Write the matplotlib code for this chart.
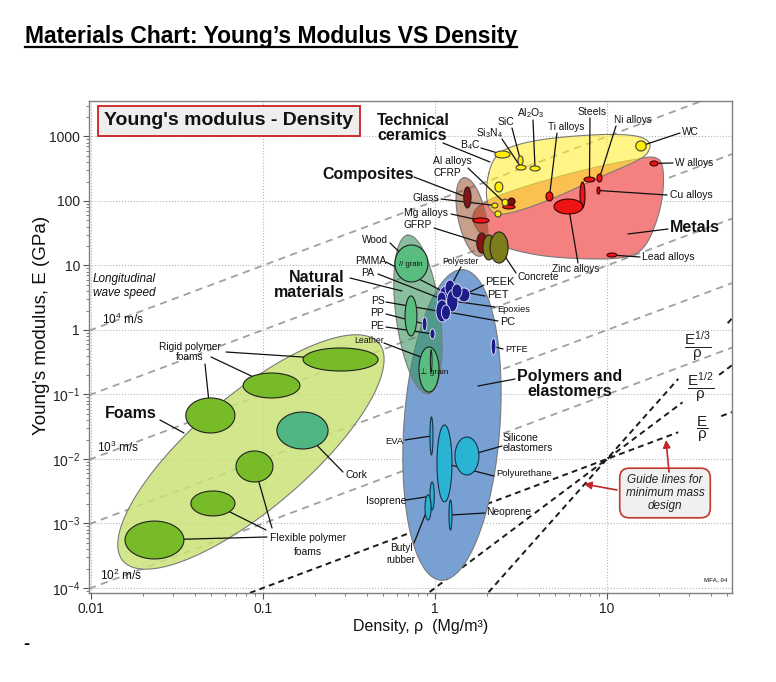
import numpy as np
import matplotlib
matplotlib.use("Agg")
import matplotlib.pyplot as plt
from matplotlib.lines import Line2D
from matplotlib import ticker

plt.rcParams['font.family'] = ['Liberation Sans', 'DejaVu Sans']
plt.rcParams['mathtext.fontset'] = 'custom'
plt.rcParams['mathtext.rm'] = 'Liberation Sans'
plt.rcParams['mathtext.it'] = 'Liberation Sans:italic'
plt.rcParams['mathtext.bf'] = 'Liberation Sans:bold'
plt.rcParams['mathtext.sf'] = 'Liberation Sans'

# ---------------------------------------------------------------- data
X_RANGE = (0.00974, 53.3)      # density, Mg/m^3
Y_RANGE = (8.36e-5, 3548.0)    # Young's modulus, GPa
X_TICKS = [0.01, 0.1, 1, 10]
X_TICK_LABELS = ['0.01', '0.1', '1', '10']
Y_TICKS = [1e-4, 1e-3, 1e-2, 1e-1, 1, 10, 100, 1000]
Y_TICK_LABELS = ['10$^{-4}$', '10$^{-3}$', '10$^{-2}$', '10$^{-1}$', '1', '10', '100', '1000']

# member bubbles: (rho_lo, rho_hi, E_lo, E_hi)
foam_names = ['Rigid foam A', 'Rigid foam B', 'Rigid foam C', 'Cork',
              'Flexible foam A', 'Flexible foam B', 'Flexible foam C']
foam_rho_lo = [0.171, 0.0766, 0.0356, 0.1205, 0.0697, 0.0381, 0.01577]
foam_rho_hi = [0.467, 0.164, 0.0687, 0.239, 0.1143, 0.0687, 0.0347]
foam_E_lo = [0.231, 0.0883, 0.0253, 0.01429, 0.0044, 0.00131, 0.000282]
foam_E_hi = [0.526, 0.215, 0.0883, 0.0535, 0.0133, 0.00319, 0.00109]

natural_names = ['Wood // grain', 'Bamboo', 'Wood perp grain', 'Leather']
natural_rho_lo = [0.585, 0.67, 0.807, 0.94]
natural_rho_hi = [0.91, 0.785, 1.055, 0.96]
natural_E_lo = [5.55, 0.807, 0.109, 0.223]
natural_E_hi = [20.8, 3.37, 0.545, 0.49]

polymer_names = ['PMMA', 'Polyester', 'PA', 'PC', 'Epoxies', 'PEEK', 'PET', 'PS', 'PP', 'PE', 'PTFE']
polymer_rho_lo = [1.07, 1.143, 1.03, 1.013, 1.17, 1.36, 1.255, 1.09, 0.843, 0.935, 2.12]
polymer_rho_hi = [1.255, 1.307, 1.16, 1.19, 1.36, 1.597, 1.435, 1.23, 0.898, 1.0, 2.26]
polymer_E_lo = [2.92, 3.37, 2.36, 1.33, 1.9, 2.72, 3.13, 1.43, 0.965, 0.725, 0.41]
polymer_E_hi = [4.81, 5.96, 3.88, 2.92, 4.17, 4.48, 5.17, 2.44, 1.59, 1.04, 0.751]

elastomer_names = ['EVA', 'Polyurethane', 'Silicone elastomers', 'Isoprene', 'Butyl rubber', 'Neoprene']
elastomer_rho_lo = [0.935, 1.027, 1.307, 0.935, 0.875, 1.206]
elastomer_rho_hi = [0.973, 1.255, 1.80, 0.99, 0.949, 1.255]
elastomer_E_lo = [0.01153, 0.00216, 0.00565, 0.00162, 0.00113, 0.00079]
elastomer_E_hi = [0.0448, 0.0337, 0.0219, 0.0044, 0.00277, 0.00231]

composite_names = ['CFRP', 'GFRP', 'Concrete A', 'Concrete B']
composite_rho_lo = [1.47, 1.75, 1.9, 2.09]
composite_rho_hi = [1.62, 2.0, 2.23, 2.66]
composite_E_lo = [77.9, 15.6, 12.2, 10.9]
composite_E_hi = [165, 31.9, 29.7, 33.1]

ceramic_names = ['B4C', 'SiC', 'Si3N4', 'Al2O3', 'WC', 'Glass ceramic', 'Glass A', 'Glass B', 'Glass C']
ceramic_rho_lo = [2.23, 3.04, 2.96, 3.57, 14.7, 2.23, 2.14, 2.23, 2.453]
ceramic_rho_hi = [2.73, 3.25, 3.38, 4.08, 16.9, 2.48, 2.32, 2.42, 2.66]
ceramic_E_lo = [464, 361, 302, 292, 596, 138, 77.9, 56.5, 83.6]
ceramic_E_hi = [596, 499, 361, 349, 852, 197, 93, 70, 107]

metal_names = ['Mg alloys', 'Al alloys', 'Ti alloys', 'Cast irons', 'Zinc alloys', 'Steels',
               'Ni alloys', 'Cu alloys', 'W alloys', 'Lead alloys', 'Other alloy']
metal_rho_lo = [1.66, 2.48, 4.42, 6.97, 4.92, 7.35, 8.75, 8.75, 17.8, 10.0, 2.66]
metal_rho_hi = [2.06, 2.92, 4.85, 7.45, 7.25, 8.51, 9.35, 9.1, 19.8, 11.4, 2.92]
metal_E_lo = [45.6, 75.2, 100, 77.9, 62.9, 197, 197, 128, 349, 13.5, 86.7]
metal_E_hi = [54.5, 86.7, 138, 197, 107, 235, 262, 165, 417, 15.6, 111]

# family envelopes drawn as tilted ellipses: centre, semi-axes (decades), tilt
env_names = ['Foams', 'Polymers and elastomers', 'Natural materials', 'Composites']
env_rho_c = [0.0851, 1.255, 0.796, 1.641]
env_E_c = [0.01284, 0.0337, 1.74, 56.5]
env_major = [0.977, 0.905, 0.465, 0.233]
env_minor = [0.331, 0.279, 0.128, 0.081]
env_angle = [40.4, 85.9, 97.4, 102.0]

metal_env_rho = [1.641, 2.005, 3.12, 5.33, 9.10, 14.9, 19.0, 21.4, 21.2, 18.3, 15.6, 11.9,
                 6.97, 4.08, 2.55, 1.95, 1.686]
metal_env_E = [67.5, 104, 159, 244, 349, 448, 499, 375, 104, 29.7, 15.6, 12.6,
               12.6, 14.0, 18.7, 26.7, 41]
ceramic_env_rho = [1.979, 2.145, 2.553, 4.078, 9.107, 14.94, 18.03, 17.55, 15.56, 9.107,
                   5.33, 3.12, 2.233, 2.005]
ceramic_env_E = [177, 432, 663, 915, 1093, 1055, 822, 575, 432, 236, 120, 70, 58.5, 86.7]

# longitudinal wave speed lines (m/s) and minimum-mass guide lines
WAVE_SPEEDS = [1e2, 10 ** 2.5, 1e3, 10 ** 3.5, 1e4]
GUIDE_POINT = (10.0, 0.01)
GUIDE_EXPONENTS = [1, 2, 3]       # E/rho, E^1/2/rho, E^1/3/rho
GUIDE_GAPS = [(26.0, 45.0), (27.7, 44.0), (26.5, 49.0)]

# ---------------------------------------------------------------- figure
FIG_W, FIG_H = 776, 682
fig = plt.figure(figsize=(FIG_W / 100, FIG_H / 100), dpi=100)
ax = fig.add_axes([89 / FIG_W, (FIG_H - 593) / FIG_H, (732 - 89) / FIG_W, (593 - 101) / FIG_H])
ax.set_xscale('log')
ax.set_yscale('log')
ax.set_xlim(*X_RANGE)
ax.set_ylim(*Y_RANGE)

bb = ax.get_position()
KX = bb.width * FIG_W / np.log10(X_RANGE[1] / X_RANGE[0])
KY = bb.height * FIG_H / np.log10(Y_RANGE[1] / Y_RANGE[0])


def ref(px, py):
    """reference-image pixel position -> data coordinates (for labels)"""
    return tuple(ax.transData.inverted().transform((px, FIG_H - py)))


def bubble(rlo, rhi, elo, ehi, n=90):
    t = np.linspace(0, 2 * np.pi, n)
    x0, x1 = np.log10(rlo), np.log10(rhi)
    y0, y1 = np.log10(elo), np.log10(ehi)
    return (10 ** ((x0 + x1) / 2 + (x1 - x0) / 2 * np.cos(t)),
            10 ** ((y0 + y1) / 2 + (y1 - y0) / 2 * np.sin(t)))


def tilted(rc, ec, a, b, ang, n=240):
    t = np.linspace(0, 2 * np.pi, n)
    th = np.radians(ang)
    A, B = a * KX, b * KX
    X = KX * np.log10(rc) + A * np.cos(t) * np.cos(th) - B * np.sin(t) * np.sin(th)
    Y = KY * np.log10(ec) + A * np.cos(t) * np.sin(th) + B * np.sin(t) * np.cos(th)
    return 10 ** (X / KX), 10 ** (Y / KY)


def smooth(rho, E, it=4):
    P = np.column_stack([KX * np.log10(rho), KY * np.log10(E)])
    for _ in range(it):
        Q = 0.75 * P + 0.25 * np.roll(P, -1, axis=0)
        R = 0.25 * P + 0.75 * np.roll(P, -1, axis=0)
        P = np.empty((2 * len(Q), 2))
        P[0::2] = Q
        P[1::2] = R
    return 10 ** (P[:, 0] / KX), 10 ** (P[:, 1] / KY)


# axes styling
ax.grid(True, which='major', ls=':', color='#b4b4b4', lw=0.8)
ax.set_axisbelow(True)
for s in ax.spines.values():
    s.set_color('#808080')
    s.set_linewidth(1.0)
ax.set_xticks(X_TICKS)
ax.set_xticklabels(X_TICK_LABELS)
ax.set_yticks(Y_TICKS)
ax.set_yticklabels(Y_TICK_LABELS)
ax.xaxis.set_minor_locator(ticker.LogLocator(base=10, subs=np.arange(2, 10), numticks=20))
ax.yaxis.set_minor_locator(ticker.LogLocator(base=10, subs=np.arange(2, 10), numticks=20))
ax.xaxis.set_minor_formatter(ticker.NullFormatter())
ax.yaxis.set_minor_formatter(ticker.NullFormatter())
ax.tick_params(which='major', direction='out', length=4, width=0.8, color='#555555',
               labelsize=10, pad=2.5, labelcolor='#222222')
ax.tick_params(which='minor', direction='out', length=2.3, width=0.6, color='#666666')

# wave speed lines
rho_line = np.logspace(np.log10(X_RANGE[0]), np.log10(X_RANGE[1]), 300)
for v in WAVE_SPEEDS:
    ax.plot(rho_line, rho_line * v ** 2 * 1e-6, color='#a0a0a0', lw=1.3,
            dashes=(4, 3), zorder=1)

# guide lines for minimum mass design
for n, (g0, g1) in zip(GUIDE_EXPONENTS, GUIDE_GAPS):
    Eg = GUIDE_POINT[1] * (rho_line / GUIDE_POINT[0]) ** n
    Eg = np.where((rho_line > g0) & (rho_line < g1), np.nan, Eg)
    ax.plot(rho_line, Eg, color='#1a1a1a', lw=1.4, dashes=(3, 2.2), zorder=1.5)

# envelopes
env_style = {
    'Foams': dict(fc='#cae278', alpha=0.85, z=2.0),
    'Polymers and elastomers': dict(fc='#78a0d2', alpha=1.0, z=2.1),
    'Natural materials': dict(fc='#3a9460', alpha=0.6, z=2.3),
    'Composites': dict(fc='#914119', alpha=0.5, z=2.6),
}
for nm, rc, ec, a, b, ang in zip(env_names, env_rho_c, env_E_c, env_major, env_minor, env_angle):
    st = env_style[nm]
    x, y = tilted(rc, ec, a, b, ang)
    ax.fill(x, y, fc=st['fc'], alpha=st['alpha'], ec='none', zorder=st['z'])
    ax.plot(x, y, color='#7a7a7a', lw=0.8, zorder=st['z'])

x, y = smooth(metal_env_rho, metal_env_E)
ax.fill(x, y, fc='#f58080', ec='none', zorder=2.2)
ax.plot(np.append(x, x[0]), np.append(y, y[0]), color='#7a7a7a', lw=0.8, zorder=2.2)
x, y = smooth(ceramic_env_rho, ceramic_env_E)
ax.fill(x, y, fc='#ffee33', alpha=0.6, ec='none', zorder=2.4)
ax.plot(np.append(x, x[0]), np.append(y, y[0]), color='#7a7a7a', lw=0.8, zorder=2.4)

# member bubbles
centre = {}


def draw_family(names, rlo, rhi, elo, ehi, fc, ec='#202020', lw=0.8, special=None):
    for i, nm in enumerate(names):
        c = fc if special is None or nm not in special else special[nm]
        x, y = bubble(rlo[i], rhi[i], elo[i], ehi[i])
        ax.fill(x, y, fc=c, ec=ec, lw=lw, zorder=5)
        centre[nm] = (np.sqrt(rlo[i] * rhi[i]), np.sqrt(elo[i] * ehi[i]))


draw_family(foam_names, foam_rho_lo, foam_rho_hi, foam_E_lo, foam_E_hi, '#78bb28',
            special={'Cork': '#4fb583'})
draw_family(natural_names, natural_rho_lo, natural_rho_hi, natural_E_lo, natural_E_hi, '#58bd7e',
            special={'Leather': '#d9ccf0'})
draw_family(polymer_names, polymer_rho_lo, polymer_rho_hi, polymer_E_lo, polymer_E_hi, '#1d1d8a',
            ec='#e8e8ff', lw=0.6)
draw_family(elastomer_names, elastomer_rho_lo, elastomer_rho_hi, elastomer_E_lo, elastomer_E_hi,
            '#2ab4d4', ec='#16324a')
draw_family(composite_names, composite_rho_lo, composite_rho_hi, composite_E_lo, composite_E_hi,
            '#8a1212', special={'Concrete A': '#7d7d1c', 'Concrete B': '#7d7d1c'})
draw_family(metal_names, metal_rho_lo, metal_rho_hi, metal_E_lo, metal_E_hi, '#ee1414',
            ec='#3a0000', special={'Other alloy': '#7a1010'})
draw_family(ceramic_names, ceramic_rho_lo, ceramic_rho_hi, ceramic_E_lo, ceramic_E_hi, '#ffee00',
            ec='#404040')

# leader lines: (tail pixel in reference, target bubble name or pixel)
leaders = [
    ((443, 143), (490, 162)), ((481, 148), 'B4C'), ((502, 139), 'Si3N4'), ((512, 128), 'SiC'),
    ((533, 120), 'Al2O3'), ((557, 133), 'Ti alloys'), ((590, 118), 'Steels'),
    ((616, 126), 'Ni alloys'), ((680, 133), 'WC'), ((673, 163), 'W alloys'),
    ((667, 195), 'Cu alloys'), ((668, 229), (628, 234)), ((640, 257), 'Lead alloys'),
    ((578, 263), 'Zinc alloys'), ((516, 273), 'Concrete B'), ((414, 177), 'CFRP'),
    ((468, 168), 'Al alloys'), ((441, 199), 'Glass A'), ((451, 214), 'Mg alloys'),
    ((434, 228), 'GFRP'), ((390, 243), 'Wood // grain'), ((386, 262), 'PMMA'), ((378, 274), 'PA'),
    ((350, 278), (402, 291)), ((386, 302), 'PS'), ((386, 314), 'PP'), ((386, 327), 'PE'),
    ((384, 343), 'Leather'), ((461, 267), 'Polyester'), ((484, 285), 'PEEK'), ((485, 296), 'PET'),
    ((495, 307), 'Epoxies'), ((498, 321), 'PC'), ((503, 349), 'PTFE'), ((515, 379), (478, 386)),
    ((405, 440), 'EVA'), ((502, 446), 'Silicone elastomers'), ((494, 476), 'Polyurethane'),
    ((406, 500), 'Isoprene'), ((414, 543), 'Butyl rubber'), ((485, 513), 'Neoprene'),
    ((343, 472), 'Cork'), ((226, 352), 'Rigid foam A'), ((211, 357), 'Rigid foam B'),
    ((205, 364), 'Rigid foam C'), ((267, 537), 'Flexible foam C'), ((266, 530), 'Flexible foam B'),
    ((272, 528), 'Flexible foam A'), ((160, 420), (184, 433)),
]
for tail, tgt in leaders:
    x0, y0 = ref(*tail)
    x1, y1 = centre[tgt] if isinstance(tgt, str) else ref(*tgt)
    ax.plot([x0, x1], [y0, y1], color='#111111', lw=0.9, zorder=4, solid_capstyle='round')

# labels: text, px, py, size, weight, ha, style, linespacing
labels = [
    ('Technical\nceramics', 377, 128, 11.5, 'bold', 'left', 'normal', 1.0),
    ('B$_4$C', 470, 145, 7.5, 'normal', 'center', 'normal', 1),
    ('Si$_3$N$_4$', 490, 133, 7.5, 'normal', 'center', 'normal', 1),
    ('SiC', 506, 122, 7.5, 'normal', 'center', 'normal', 1),
    ('Al$_2$O$_3$', 531, 113, 7.5, 'normal', 'center', 'normal', 1),
    ('Ti alloys', 566, 127, 7.2, 'normal', 'center', 'normal', 1),
    ('Steels', 592, 112, 7.5, 'normal', 'center', 'normal', 1),
    ('Ni alloys', 633, 120, 7.2, 'normal', 'center', 'normal', 1),
    ('WC', 682, 132, 7.3, 'normal', 'left', 'normal', 1),
    ('W alloys', 675, 163, 7.3, 'normal', 'left', 'normal', 1),
    ('Cu alloys', 670, 195, 7.5, 'normal', 'left', 'normal', 1),
    ('Metals', 670, 227, 11.5, 'bold', 'left', 'normal', 1),
    ('Lead alloys', 642, 257, 7.5, 'normal', 'left', 'normal', 1),
    ('Zinc alloys', 576, 269, 7.2, 'normal', 'center', 'normal', 1),
    ('Concrete', 518, 277, 7.4, 'normal', 'left', 'normal', 1),
    ('Composites', 322, 175, 11.5, 'bold', 'left', 'normal', 1),
    ('Al alloys', 452, 161, 7.5, 'normal', 'center', 'normal', 1),
    ('CFRP', 447, 173, 7.3, 'normal', 'center', 'normal', 1),
    ('Glass', 426, 198, 7.5, 'normal', 'center', 'normal', 1),
    ('Mg alloys', 426, 213, 7.5, 'normal', 'center', 'normal', 1),
    ('GFRP', 418, 225, 7.3, 'normal', 'center', 'normal', 1),
    ('Wood', 375, 240, 7.3, 'normal', 'center', 'normal', 1),
    ('// grain', 411, 264, 5.5, 'normal', 'center', 'normal', 1),
    ('PMMA', 371, 261, 7.5, 'normal', 'center', 'normal', 1),
    ('PA', 368, 273, 7.5, 'normal', 'center', 'normal', 1),
    ('Natural\nmaterials', 345, 285, 11.5, 'bold', 'right', 'normal', 1.0),
    ('PS', 378, 301, 7.5, 'normal', 'center', 'normal', 1),
    ('PP', 377, 313, 7.5, 'normal', 'center', 'normal', 1),
    ('PE', 377, 326, 7.5, 'normal', 'center', 'normal', 1),
    ('Leather', 369, 341, 6.3, 'normal', 'center', 'normal', 1),
    ('\u22a5 grain', 434, 372, 6, 'normal', 'center', 'normal', 1),
    ('Polyester', 461, 262, 6.2, 'normal', 'center', 'normal', 1),
    ('PEEK', 485, 282, 8, 'normal', 'left', 'normal', 1),
    ('PET', 487, 295, 8, 'normal', 'left', 'normal', 1),
    ('Epoxies', 497, 309, 6.7, 'normal', 'left', 'normal', 1),
    ('PC', 500, 322, 7.8, 'normal', 'left', 'normal', 1),
    ('PTFE', 505, 349, 6.4, 'normal', 'left', 'normal', 1),
    ('Polymers and\nelastomers', 570, 384, 11.5, 'bold', 'center', 'normal', 0.95),
    ('EVA', 394, 441, 6.8, 'normal', 'center', 'normal', 1),
    ('Silicone\nelastomers', 503, 443, 7.4, 'normal', 'left', 'normal', 1.05),
    ('Polyurethane', 496, 474, 6.8, 'normal', 'left', 'normal', 1),
    ('Isoprene', 386, 501, 7.5, 'normal', 'center', 'normal', 1),
    ('Butyl\nrubber', 401, 554, 7.3, 'normal', 'center', 'normal', 1.2),
    ('Neoprene', 486, 512, 7.4, 'normal', 'left', 'normal', 1),
    ('Cork', 356, 475, 7.5, 'normal', 'center', 'normal', 1),
    ('Rigid polymer\nfoams', 190, 352, 7.3, 'normal', 'center', 'normal', 1.1),
    ('Flexible polymer\nfoams', 308, 545, 7.5, 'normal', 'center', 'normal', 1.4),
    ('Foams', 131, 414, 11.5, 'bold', 'center', 'normal', 1),
    ('Longitudinal\nwave speed', 93, 286, 8.5, 'normal', 'left', 'italic', 1.25),
    ('10$^4$ m/s', 102, 319, 8.5, 'normal', 'left', 'normal', 1),
    ('10$^3$ m/s', 97, 447, 8.5, 'normal', 'left', 'normal', 1),
    ('10$^2$ m/s', 100, 575, 8.5, 'normal', 'left', 'normal', 1),
]
for txt, px, py, fs, wt, ha, sty, ls in labels:
    ax.text(*ref(px, py), txt, fontsize=fs, fontweight=wt, ha=ha, va='center', style=sty,
            linespacing=ls, multialignment=ha, color='#111111', zorder=6)

# guide line labels
fracs = [(r'$\dfrac{\mathrm{E}}{\mathrm{\rho}}$', 702, 429),
         (r'$\dfrac{\mathrm{E}^{1/2}}{\mathrm{\rho}}$', 701, 387),
         (r'$\dfrac{\mathrm{E}^{1/3}}{\mathrm{\rho}}$', 698, 346)]
for txt, px, py in fracs:
    ax.text(*ref(px, py), txt, fontsize=11, ha='center', va='center', color='#222222', zorder=6)

ax.text(*ref(665, 493), 'Guide lines for\nminimum mass\ndesign', fontsize=8.5, style='italic',
        ha='center', va='center', linespacing=1.1, color='#222222', zorder=7,
        bbox=dict(boxstyle='round,pad=0.5,rounding_size=0.8', fc='#f0f0f0', ec='#c0392b', lw=1.2))
for tail, head in [((617, 490), (584, 484)), ((669, 472), (666, 440))]:
    ax.annotate('', xy=ref(*head), xytext=ref(*tail), zorder=7,
                arrowprops=dict(arrowstyle='-|>', color='#c0262b', lw=1.2, mutation_scale=11,
                                shrinkA=0, shrinkB=0))

ax.text(*ref(229, 121), "Young's modulus - Density", fontsize=14, fontweight='bold',
        ha='center', va='center', color='#111111', zorder=7,
        bbox=dict(boxstyle='square,pad=0.35', fc='#eeeeee', ec='#cc2020', lw=1.3))
ax.text(*ref(716, 580), 'MFA, 04', fontsize=4.5, fontweight='bold', ha='center', va='center',
        color='#555555', zorder=6)

# axis titles and page title
fig.text(42 / FIG_W, 1 - 325 / FIG_H, "Young's modulus, E (GPa)", rotation=90, fontsize=13.5,
         ha='center', va='center', color='#111111')
fig.text(421 / FIG_W, 1 - 627 / FIG_H, 'Density, \u03c1  (Mg/m\u00b3)', fontsize=11.5,
         ha='center', va='center', color='#111111')
title = fig.text(25 / FIG_W, 1 - 43 / FIG_H, 'Materials Chart: Young\u2019s Modulus VS Density',
                 fontsize=16.5, fontweight='bold', ha='left', va='baseline')
fig.canvas.draw()
tb = title.get_window_extent()
fig.add_artist(Line2D([tb.x0 / FIG_W, tb.x1 / FIG_W], [1 - 47 / FIG_H] * 2, color='k', lw=1.6))
fig.text(23 / FIG_W, 1 - 649 / FIG_H, '-', fontsize=13, fontweight='bold', ha='left', va='baseline')

fig.savefig('out.png', dpi=100)
